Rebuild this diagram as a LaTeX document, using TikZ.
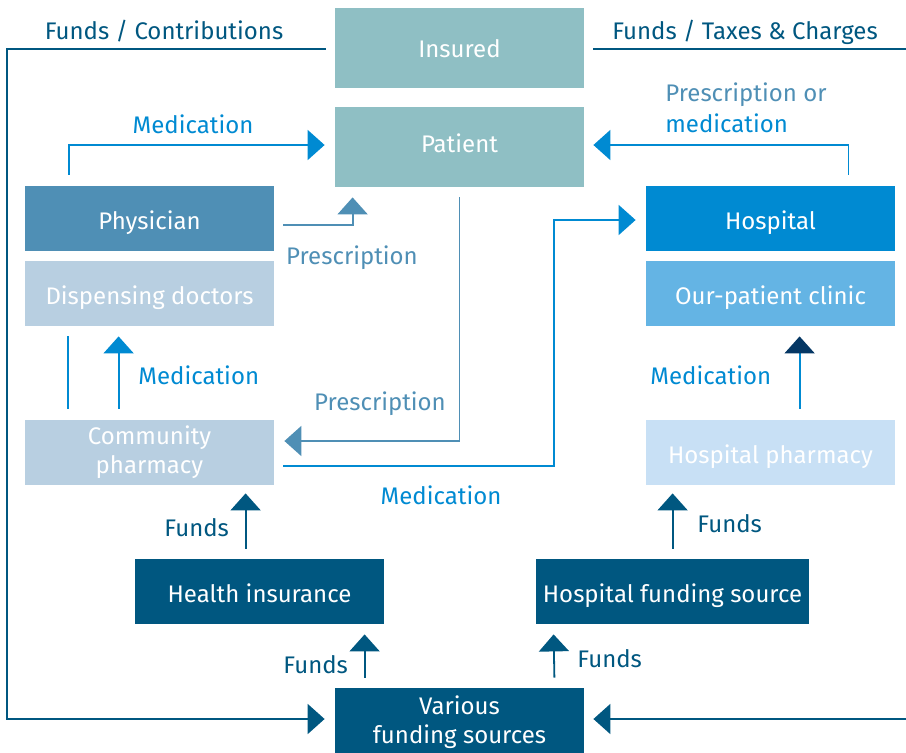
\documentclass[tikz,border=0pt]{standalone}
\usepackage{fontspec}
\setmainfont{Fira Sans}
\usetikzlibrary{arrows.meta}
\definecolor{fundblue}{RGB}{0,87,128}
\definecolor{medblue}{RGB}{0,138,210}
\definecolor{prescblue}{RGB}{79,143,181}
\definecolor{navyblue}{RGB}{5,55,100}
\definecolor{patientgrey}{RGB}{143,191,196}
\definecolor{doctorblue}{RGB}{184,207,225}
\definecolor{clinicblue}{RGB}{100,180,228}
\definecolor{pharmblue}{RGB}{200,224,245}
\begin{document}
\begin{tikzpicture}[
        x=0.5pt, y=-0.5pt,
        font=\fontsize{12}{14.5}\selectfont,
        box/.style={inner sep=0pt, minimum width=124.5pt, minimum height=32.5pt, text=white, align=center},
        onebox/.style={box, text height=12pt, text depth=1pt},
        tallbox/.style={box, minimum height=40pt, text height=10pt, text depth=1pt},
        fundtext/.style={text=fundblue, anchor=base, inner sep=0pt},
        medtext/.style={text=medblue, anchor=base, inner sep=0pt},
        presctext/.style={text=prescblue, anchor=base, inner sep=0pt},
        tip/.style={-{Triangle[length=8.5pt,width=15pt]}},
        fundline/.style={draw=fundblue, line width=0.9pt},
        medline/.style={draw=medblue, line width=0.9pt},
        prescline/.style={draw=prescblue, line width=0.9pt},
    ]
    \useasboundingbox (0,0) rectangle (906,752);
    \node[tallbox, fill=patientgrey](insured) at (459.5,48){Insured};
    \node[tallbox, fill=patientgrey, text height=9pt, text depth=4pt](patient) at (459.5,147){Patient};
    \node[onebox, fill=prescblue](physician) at (149.5,218.5){Physician};
    \node[onebox, fill=doctorblue](dispensing) at (149.5,293.5){Dispensing doctors};
    \node[box, fill=doctorblue](community) at (149.5,452.5){Community\\pharmacy};
    \node[onebox, fill=medblue](hospital) at (770.5,218.5){Hospital};
    \node[onebox, fill=clinicblue](clinic) at (770.5,293.5){Our-patient clinic};
    \node[onebox, fill=pharmblue](hosppharm) at (770.5,452.5){Hospital pharmacy};
    \node[onebox, fill=fundblue](health) at (259.5,591.5){Health insurance};
    \node[onebox, fill=fundblue, minimum width=136.5pt](hospfund) at (672.5,591.5){Hospital funding source};
    \node[box, fill=fundblue, minimum height=34pt](various) at (459.5,722){Various\\funding sources};
    \coordinate (leftrail) at (7,719);
    \coordinate (rightrail) at (915,719);

    \draw[fundline, tip] ([shift={(-9,1)}]insured.west) -| (leftrail) -- ([shift={(-10,-3)}]various.west);
    \draw[fundline, tip] ([shift={(9,1)}]insured.east) -| (rightrail) -- ([shift={(9,-3)}]various.east);
    \draw[medline, tip] ([shift={(44,-11)}]physician.north west) |- ([shift={(-10,-2)}]patient.west);
    \draw[medline, tip] ([shift={(-47,-11)}]hospital.north east) |- ([shift={(9,-2)}]patient.east);
    \draw[prescline, tip] ([shift={(9,6.5)}]physician.east) -| ([shift={(18,10)}]patient.south west);
    \draw[prescline, tip] ([shift={(0,10)}]patient.south) |- ([shift={(10,-11.5)}]community.east);
    \draw[medline, tip] ([shift={(9,13.5)}]community.east) -| ([shift={(-92,1.5)}]hospital.west) -- ([shift={(-10,1.5)}]hospital.west);
    \draw[medline] ([shift={(43,10)}]dispensing.south west) -- ([shift={(43,-11)}]community.north west);
    \draw[medline, tip] ([shift={(94,-11)}]community.north west) -- ([shift={(94,10)}]dispensing.south west);
    \draw[medline, -{Triangle[length=8.5pt,width=15pt,color=navyblue]}] ([shift={(154,-11)}]hosppharm.north west) -- ([shift={(154,10)}]clinic.south west);
    \draw[fundline, tip] ([shift={(111,-10)}]health.north west) -- ([shift={(221,8)}]community.south west);
    \draw[fundline, tip] ([shift={(137,-10)}]hospfund.north west) -- ([shift={(27,8)}]hosppharm.south west);
    \draw[fundline, tip] ([shift={(30,-10)}]various.north west) -- ([shift={(230,10)}]health.south west);
    \draw[fundline, tip] ([shift={(-30,-10)}]various.north east) -- ([shift={(18,10)}]hospfund.south west);

    \node[fundtext](fundscontrib) at (164,39){Funds / Contributions};
    \node[fundtext](fundstaxes) at (745,39){Funds / Taxes \& Charges};
    \node[medtext](medtop) at (193,133){Medication};
    \node[presctext, anchor=base west](prescor) at (665,101){Prescription or};
    \node[medtext, anchor=base west](medor) at (665,132){medication};
    \node[presctext](prescphys) at (352,264){Prescription};
    \node[presctext](prescpat) at (380,410){Prescription};
    \node[medtext, anchor=base west](meddisp) at (138,384){Medication};
    \node[medtext, anchor=base west](medclinic) at (650,384){Medication};
    \node[medtext](medhosp) at (441,504){Medication};
    \node[fundtext, anchor=base west](fundshealth) at (164,536){Funds};
    \node[fundtext, anchor=base west](fundsvarhealth) at (283,673){Funds};
    \node[fundtext, anchor=base west](fundsvarhosp) at (577,667){Funds};
    \node[fundtext, anchor=base west](fundshosp) at (697,532){Funds};
\end{tikzpicture}
\end{document}
